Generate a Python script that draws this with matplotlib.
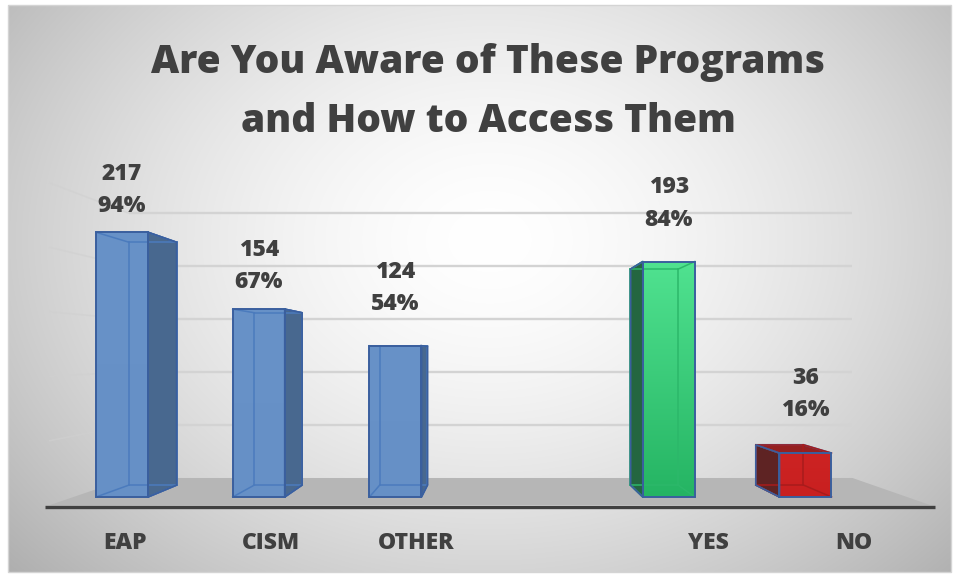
import numpy as np
import matplotlib
matplotlib.use("Agg")
import matplotlib.pyplot as plt
from matplotlib.patches import Polygon, Rectangle

# ---------------- data ----------------
categories = ["EAP", "CISM", "OTHER", "YES", "NO"]
positions = [0, 1, 2, 4, 5]
counts = [217, 154, 124, 193, 36]
percents = ["94%", "67%", "54%", "84%", "16%"]
gridline_values = [50, 100, 150, 200, 250]
title_lines = ["Are You Aware of These Programs", "and How to Access Them"]

# ---------------- style / layout ----------------
W, H = 958, 579
PX_PER_CAT = 136.7
PX_PER_VAL = 1.22
X0_PX = 122
BASE_PX = 497
BAR_W = 52 / PX_PER_CAT
T_BAR = 0.083        # depth of bar back face (perspective factor)
T_WALL = 0.132       # back wall depth
T_FLOOR = -0.056     # floor front depth
T_AXIS = -0.068
VP_PX = (494, 353)
FLOOR_PX = (73.5, 907)
TEXT = "#404040"
FONT = "Open Sans"
WEIGHT = 800

front_top = ["#6892c8", "#6892c8", "#6892c8", "#50e290", "#cd2323"]
front_bot = ["#6690c6", "#6690c6", "#6690c6", "#25b463", "#c82020"]
side_cols = ["#48688f", "#48688f", "#48688f", "#246640", "#5e2323"]
top_cols = ["#5a80b5", "#5a80b5", "#5a80b5", "#2f9a5a", "#952020"]
inner_cols = ["#4b7bbd", "#4b7bbd", "#4b7bbd", "#2cb86a", "#a81c1c"]
EDGE = "#3a5f9e"
label_pad_px = [42, 43, 58, 58, 59]


def px2x(xp):
    return (xp - X0_PX) / PX_PER_CAT


def px2y(yp):
    return (BASE_PX - yp) / PX_PER_VAL


VP = (px2x(VP_PX[0]), px2y(VP_PX[1]))


def proj(p, t):
    return (p[0] + t * (VP[0] - p[0]), p[1] + t * (VP[1] - p[1]))


fig = plt.figure(figsize=(W / 100, H / 100), dpi=100)
fig.patch.set_facecolor("white")

# background axes in pixel coordinates
bg = fig.add_axes([0, 0, 1, 1])
bg.set_xlim(0, W)
bg.set_ylim(H, 0)
bg.axis("off")
L, R, T, B = 8, 951, 5, 572
xs = np.linspace(L, R, 480)
ys = np.linspace(T, B, 300)
X, Y = np.meshgrid(xs, ys)
r = np.sqrt(((X - 490) / 560) ** 2 + ((Y - 240) / 430) ** 2)
val = 1 - 0.25 * np.clip(r, 0, 1.2) ** 1.6
img = np.dstack([val, val, val])
bg.imshow(img, extent=(L, R, B, T), aspect="auto", interpolation="bilinear", zorder=0)
bg.add_patch(Rectangle((L, T), R - L, B - T, fill=False, edgecolor="#d4d4d4", lw=1.0, zorder=1))

# main data axes
ax = fig.add_axes([0, 0, 1, 1])
ax.set_xlim(px2x(0), px2x(W))
ax.set_ylim(px2y(H), px2y(0))
ax.axis("off")
ax.patch.set_alpha(0)

xL, xR = px2x(FLOOR_PX[0]), px2x(FLOOR_PX[1])

# gridlines on back wall and left side wall
for v in gridline_values:
    a = proj((xL, v), T_WALL)
    b = proj((xR, v), T_WALL)
    ax.plot([a[0], b[0]], [a[1], b[1]], color="#d3d3d3", lw=1.7, zorder=1, solid_capstyle="butt")
    c = proj((xL, v), T_FLOOR)
    ax.plot([c[0], a[0]], [c[1], a[1]], color="#d0d0d0", lw=1.2, alpha=0.6, zorder=1)

# floor
floor = [proj((xL, 0), T_FLOOR), proj((xR, 0), T_FLOOR), proj((xR, 0), T_WALL), proj((xL, 0), T_WALL)]
ax.add_patch(Polygon(floor, closed=True, facecolor="#b6b6b6", edgecolor="none", zorder=1.5))
a = proj((xL, 0), T_AXIS)
b = proj((xR, 0), T_AXIS)
ax.plot([a[0], b[0]], [a[1], b[1]], color="#404040", lw=2.4, zorder=1.6, solid_capstyle="butt")

# bars
for i, (x, v) in enumerate(zip(positions, counts)):
    hw = BAR_W / 2
    FL, FR, TR, TL = (x - hw, 0), (x + hw, 0), (x + hw, v), (x - hw, v)
    bFL, bFR, bTR, bTL = [proj(p, T_BAR) for p in (FL, FR, TR, TL)]
    # visible side face
    if x + hw < VP[0]:
        side = [FR, TR, bTR, bFR]
    else:
        side = [FL, TL, bTL, bFL]
    ax.add_patch(Polygon(side, closed=True, facecolor=side_cols[i], edgecolor=EDGE, lw=1.2, zorder=3))
    if v < VP[1]:
        ax.add_patch(Polygon([TL, TR, bTR, bTL], closed=True, facecolor=top_cols[i],
                             edgecolor=EDGE, lw=1.2, zorder=3))
    # front face with vertical gradient
    rect = Rectangle((x - hw, 0), BAR_W, v, facecolor="none", edgecolor="none", zorder=4)
    ax.add_patch(rect)
    c1 = np.array(matplotlib.colors.to_rgb(front_top[i]))
    c2 = np.array(matplotlib.colors.to_rgb(front_bot[i]))
    tt = np.linspace(1, 0, 100)[:, None]
    grad = (c1[None, :] * tt + c2[None, :] * (1 - tt))[:, None, :]
    im = ax.imshow(grad, extent=(x - hw, x + hw, 0, v), aspect="auto", zorder=4,
                   interpolation="bilinear")
    im.set_clip_path(rect)
    # hidden (see-through) edges
    inner = [(FL, bFL), (FR, bFR), (TL, bTL), (TR, bTR),
             (bFL, bFR), (bTL, bTR), (bFL, bTL), (bFR, bTR)]
    for p, q in inner:
        ax.plot([p[0], q[0]], [p[1], q[1]], color=inner_cols[i], lw=1.1, zorder=4.5)
    ax.add_patch(Rectangle((x - hw, 0), BAR_W, v, facecolor="none", edgecolor=EDGE, lw=1.4, zorder=5))
    ax.add_patch(Polygon(side, closed=True, facecolor="none", edgecolor=EDGE, lw=1.2, zorder=5))

    # data labels
    ax.text(x, v + label_pad_px[i] / PX_PER_VAL, f"{counts[i]}\n{percents[i]}",
            ha="center", va="center", fontsize=16.5, fontweight=WEIGHT, family=FONT,
            color=TEXT, linespacing=1.45, zorder=6)

# category labels (perspective-shifted along the floor front)
anchor = px2x(77)
for x, name in zip(positions, categories):
    ax.text(anchor + 1.0665 * (x - anchor), px2y(543), name, ha="center", va="center",
            fontsize=16.5, fontweight=WEIGHT, family=FONT, color=TEXT, zorder=6)

# title (fit width)
fig.canvas.draw()
renderer = fig.canvas.get_renderer()
probe = bg.text(0, 0, title_lines[0], fontsize=30, fontweight=WEIGHT, family=FONT)
wpx = probe.get_window_extent(renderer).width
probe.remove()
tsize = 30 * 675 / wpx
bg.text(488, 63, title_lines[0], ha="center", va="center", fontsize=tsize,
        fontweight=WEIGHT, family=FONT, color=TEXT, zorder=6)
bg.text(488, 121, title_lines[1], ha="center", va="center", fontsize=tsize,
        fontweight=WEIGHT, family=FONT, color=TEXT, zorder=6)

fig.savefig("out.png", dpi=100)
